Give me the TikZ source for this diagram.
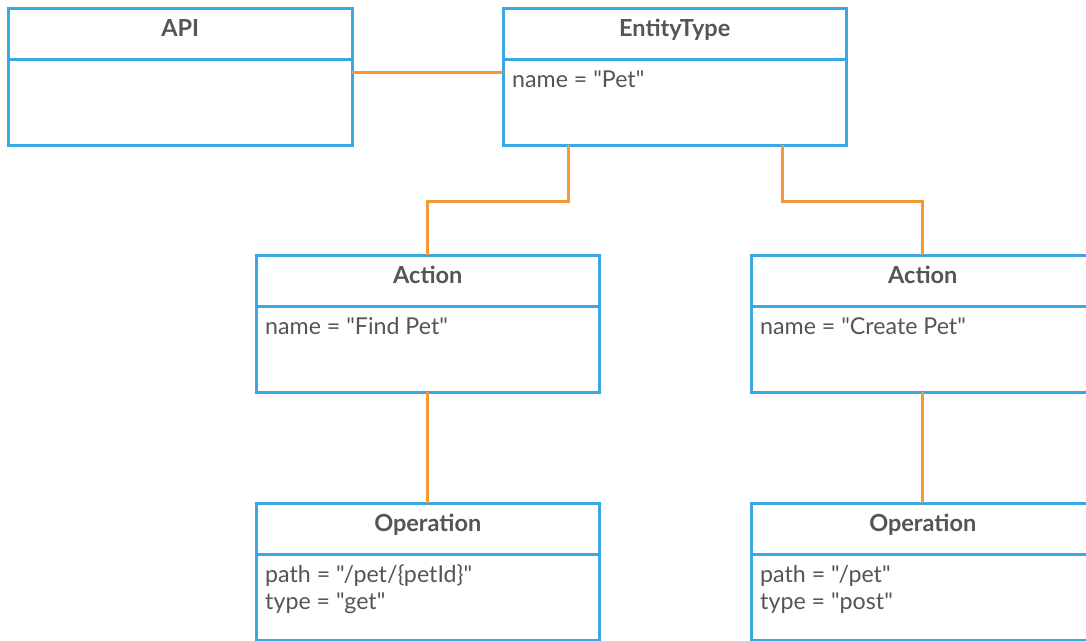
\documentclass[tikz,border=0pt]{standalone}
\usepackage{fontspec}
\setmainfont{Lato}[Ligatures=TeXOff]
\definecolor{boxblue}{HTML}{3AA7E3}
\definecolor{linkorange}{HTML}{F4993A}
\definecolor{textgrey}{HTML}{555555}
\tikzset{
  classbox/.style={draw=boxblue, line width=3pt, fill=white, rectangle,
    minimum width=343.5pt, minimum height=137pt, anchor=north west,
    inner sep=0pt, outer sep=0pt},
  divider/.style={draw=boxblue, line width=3pt},
  classtitle/.style={anchor=base, text=textgrey, inner sep=0pt,
    font=\fontsize{23.5}{27}\selectfont\bfseries},
  classattr/.style={anchor=base west, text=textgrey, inner sep=0pt,
    font=\fontsize{23.2}{27}\selectfont},
  conn/.style={draw=linkorange, line width=3pt}
}
\begin{document}
\begin{tikzpicture}[x=1pt,y=-1pt]
  \useasboundingbox (0,0) rectangle (1086,640);
  \fill[white] (0,0) rectangle (1086,640);
  \clip (0,0) rectangle (1086,640);

  % class boxes
  \node[classbox] (api)  at (8.5,8)   {};
  \node[classbox] (ent)  at (503,8)   {};
  \node[classbox] (actL) at (256,255) {};
  \node[classbox] (actR) at (751,255) {};
  \node[classbox] (opL)  at (256,503) {};
  \node[classbox] (opR)  at (751,503) {};

  % header dividers
  \foreach \b in {api,ent,actL,actR,opL,opR}
    \draw[divider] ([yshift=-51pt]\b.north west) -- ([yshift=-51pt]\b.north east);

  % class names
  \node[classtitle] (api-title)  at ([yshift=-28pt]api.north)  {API};
  \node[classtitle] (ent-title)  at ([yshift=-28pt]ent.north)  {EntityType};
  \node[classtitle] (actL-title) at ([yshift=-28pt]actL.north) {Action};
  \node[classtitle] (actR-title) at ([yshift=-28pt]actR.north) {Action};
  \node[classtitle] (opL-title)  at ([yshift=-28pt]opL.north)  {Operation};
  \node[classtitle] (opR-title)  at ([yshift=-28pt]opR.north)  {Operation};

  % attributes, one node per line
  \node[classattr] (ent-name)  at ([xshift=9pt,yshift=-79pt]ent.north west)  {name = "Pet"};
  \node[classattr] (actL-name) at ([xshift=9pt,yshift=-79pt]actL.north west) {name = "Find Pet"};
  \node[classattr] (actR-name) at ([xshift=9pt,yshift=-79pt]actR.north west) {name = "Create Pet"};
  \node[classattr] (opL-path)  at ([xshift=9pt,yshift=-79pt]opL.north west)  {path = "/pet/\{petId\}"};
  \node[classattr] (opL-type)  at ([xshift=9pt,yshift=-106pt]opL.north west) {type = "get"};
  \node[classattr] (opR-path)  at ([xshift=9pt,yshift=-79pt]opR.north west)  {path = "/pet"};
  \node[classattr] (opR-type)  at ([xshift=9pt,yshift=-106pt]opR.north west) {type = "post"};

  % associations
  \draw[conn] ([yshift=-64pt]api.north east) -- ([yshift=-64pt]ent.north west);
  \draw[conn] ([xshift=65pt]ent.south west) -- ++(0,56) -| (actL.north);
  \draw[conn] ([xshift=-64pt]ent.south east) -- ++(0,56) -| (actR.north);
  \draw[conn] (actL.south) -- (opL.north);
  \draw[conn] (actR.south) -- (opR.north);
\end{tikzpicture}
\end{document}
